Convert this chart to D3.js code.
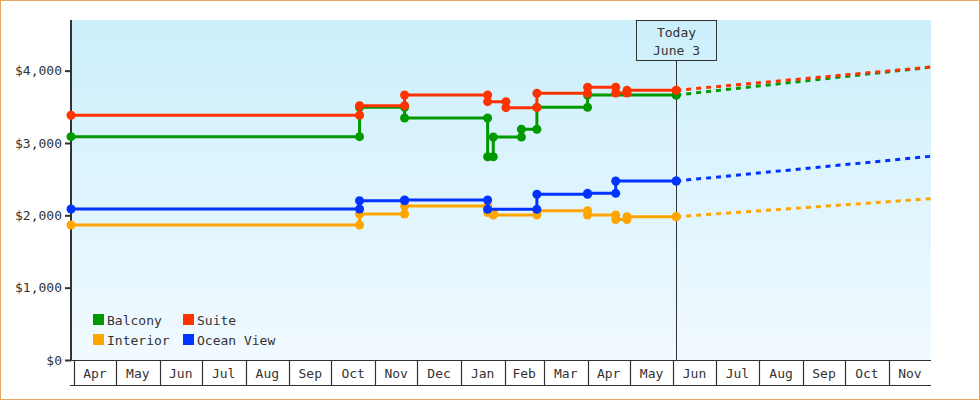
<!DOCTYPE html>
<html><head><meta charset="utf-8">
<script src="https://cdn.jsdelivr.net/npm/d3@7"></script>
<style>
body{margin:0;background:#fff}
svg{display:block}
text{font-family:"DejaVu Sans Mono",monospace;font-size:13px;fill:#333}
</style>
</head><body>
<svg id="c" width="980" height="400"></svg>
<script>
// ---- data ----
const seriesNames  = ["Balcony", "Interior", "Suite", "Ocean View"];
const seriesColors = ["#009900", "#FFA500", "#FF3300", "#0033FF"];
const balcony   = [["2018-03-30",3087],["2018-10-21",3493],["2018-11-22",3345],["2019-01-20",2810],["2019-01-24",3083],["2019-02-13",3189],["2019-02-24",3493],["2019-04-01",3663],["2019-06-03",3663]];
const interior  = [["2018-03-30",1866],["2018-10-21",2018],["2018-11-22",2129],["2019-01-20",2039],["2019-01-24",2004],["2019-02-24",2064],["2019-04-01",2004],["2019-04-21",1942],["2019-04-29",1981],["2019-06-03",1981]];
const suite     = [["2018-03-30",3383],["2018-10-21",3515],["2018-11-22",3663],["2019-01-20",3571],["2019-02-02",3488],["2019-02-24",3687],["2019-04-01",3770],["2019-04-21",3691],["2019-04-29",3728],["2019-06-03",3728]];
const oceanView = [["2018-03-30",2087],["2018-10-21",2202],["2018-11-22",2212],["2019-01-20",2083],["2019-02-24",2291],["2019-04-01",2304],["2019-04-21",2474],["2019-06-03",2474]];
const projectionDate = "2019-12-01";
const projectionEnd  = [4048, 2230, 4050, 2816];
const todayDate  = "2019-06-03";
const todayLabel = ["Today", "June 3"];
const domainDates = ["2018-03-30", "2019-12-01"];
const yTicks = [0, 1000, 2000, 3000, 4000];
const yMax = 4700;

// ---- chart ----
const parse = d3.timeParse("%Y-%m-%d");
const svg = d3.select("#c");
const L = 71, R = 931, T = 20, B = 360;

const x = d3.scaleTime().domain(domainDates.map(parse)).range([L, R]);
const y = d3.scaleLinear().domain([0, yMax]).range([B, T]);

// outer border
svg.append("rect").attr("x",0.5).attr("y",0.5).attr("width",979).attr("height",399)
  .attr("fill","#fff").attr("stroke","#E8A862").attr("stroke-width",1);

// gradient background
const defs = svg.append("defs");
const g = defs.append("linearGradient").attr("id","bg").attr("x1",0).attr("y1",0).attr("x2",0).attr("y2",1);
g.append("stop").attr("offset","0%").attr("stop-color","#CCEFFC");
g.append("stop").attr("offset","100%").attr("stop-color","#F1FAFF");
svg.append("rect").attr("x",L).attr("y",T).attr("width",R-L).attr("height",B-T).attr("fill","url(#bg)");

// y axis
const yAxis = d3.axisLeft(y).tickValues(yTicks).tickSize(6).tickPadding(3)
  .tickFormat(d => "$" + d3.format(",")(d));
const ya = svg.append("g").attr("transform",`translate(${L},0)`).call(yAxis);
ya.select(".domain").remove();
ya.selectAll(".tick line").attr("stroke","#333").attr("stroke-width",2);
ya.selectAll(".tick text").attr("font-family",null).attr("font-size",null).style("fill","#333");
svg.append("line").attr("x1",L).attr("x2",L).attr("y1",T).attr("y2",B+1)
  .attr("stroke","#333").attr("stroke-width",2);

// x axis (month boxes)
svg.append("line").attr("x1",L).attr("x2",R).attr("y1",B+0.5).attr("y2",B+0.5).attr("stroke","#333").attr("stroke-width",1.2);
svg.append("line").attr("x1",L-1).attr("x2",R).attr("y1",385.5).attr("y2",385.5).attr("stroke","#333").attr("stroke-width",1.2);
const months = d3.timeMonth.range(d3.timeMonth.ceil(x.domain()[0]), x.domain()[1]);
const xg = svg.append("g");
months.forEach(m => {
  const x0 = Math.round(x(m)) + 0.5;
  const x1 = Math.min(x(d3.timeMonth.offset(m,1)), R);
  xg.append("line").attr("x1",x0).attr("x2",x0).attr("y1",B).attr("y2",385.5).attr("stroke","#333").attr("stroke-width",1.2);
  xg.append("text").attr("x",(x(m)+x1)/2).attr("y",378).attr("text-anchor","middle").text(d3.timeFormat("%b")(m));
});

// today marker
const tx = Math.round(x(parse(todayDate))) + 0.5;
svg.append("line").attr("x1",tx).attr("x2",tx).attr("y1",60.5).attr("y2",B).attr("stroke","#333").attr("stroke-width",1);
svg.append("rect").attr("x",tx-40).attr("y",20.5).attr("width",80).attr("height",40)
  .attr("fill","none").attr("stroke","#333").attr("stroke-width",1);
svg.append("text").attr("x",tx).attr("y",37).attr("text-anchor","middle").text(todayLabel[0]);
svg.append("text").attr("x",tx).attr("y",55).attr("text-anchor","middle").text(todayLabel[1]);

// series
const allSeries = [balcony, interior, suite, oceanView];
allSeries.forEach((s, i) => {
  const pts = s.map(d => ({date: parse(d[0]), v: d[1]}));
  const color = seriesColors[i];
  const gg = svg.append("g");
  // projection
  const last = pts[pts.length-1];
  gg.append("path")
    .attr("d", d3.line().x(d=>x(d.date)).y(d=>y(d.v))([last, {date: parse(projectionDate), v: projectionEnd[i]}]))
    .attr("fill","none").attr("stroke",color).attr("stroke-width",3).attr("stroke-dasharray","5,5");
  // step line
  gg.append("path")
    .attr("d", d3.line().x(d=>x(d.date)).y(d=>y(d.v)).curve(d3.curveStepAfter)(pts))
    .attr("fill","none").attr("stroke",color).attr("stroke-width",3);
  // markers (before & after each change)
  const marks = [pts[0]];
  for (let k = 1; k < pts.length; k++) {
    marks.push({date: pts[k].date, v: pts[k-1].v});
    marks.push(pts[k]);
  }
  gg.selectAll("circle").data(marks).join("circle")
    .attr("cx", d=>x(d.date)).attr("cy", d=>y(d.v)).attr("r",4.5).attr("fill",color);
});

// legend (2 rows, column-major)
const lg = svg.append("g");
seriesNames.forEach((n, i) => {
  const col = Math.floor(i/2), row = i%2;
  const lx = 93 + col*90, ly = 314 + row*20;
  lg.append("rect").attr("x",lx).attr("y",ly).attr("width",11).attr("height",11).attr("fill",seriesColors[i]);
  lg.append("text").attr("x",lx+14).attr("y",ly+10.5).text(n);
});
</script>
</body></html>
